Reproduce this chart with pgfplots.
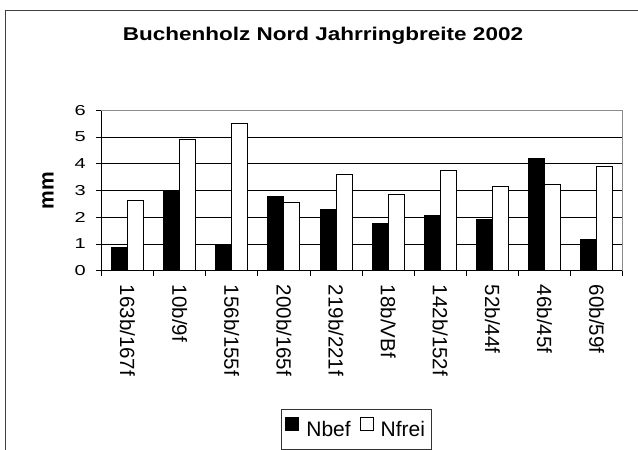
\documentclass[border=0pt]{standalone}
\usepackage{fontspec}
\setmainfont{Liberation Sans}
\usepackage{pgfplots}
\pgfplotsset{compat=1.18}
\begin{document}
\begin{tikzpicture}
\useasboundingbox (-101.5pt,-179.3pt) rectangle (536.5pt,270.7pt);
\clip (-101.5pt,-179.3pt) rectangle (536.5pt,270.7pt);
\fill[white] (-101.5pt,-179.3pt) rectangle (536.5pt,270.7pt);
\draw[line width=1.3pt, black!75] (-96pt,-220pt) rectangle (580pt,260pt);
\begin{axis}[
  scale only axis, width=521.2pt, height=160.4pt,
  xmin=-0.5, xmax=9.5, ymin=0, ymax=6, enlargelimits=false,
  axis lines=left, axis line style={-, line width=0.9pt, black},
  ybar=0pt, bar width=16pt,
  xtick={0,...,9},
  xticklabels={163b/167f,10b/9f,156b/155f,200b/165f,219b/221f,18b/VBf,142b/152f,52b/44f,46b/45f,60b/59f},
  minor xtick={-0.5,0.5,...,9.5},
  major x tick style={draw=none},
  tick align=outside, major tick length=5pt, minor tick length=5pt,
  tick style={black, line width=0.9pt},
  ytick={0,...,6},
  ymajorgrids, grid style={black, line width=0.8pt},
  yticklabel={\scalebox{1}[0.72]{\pgfmathprintnumber[assume math mode=true]{\tick}}},
  yticklabel style={font=\fontsize{20}{24}\selectfont, inner sep=0pt},
  yticklabel shift=10.5pt,
  xticklabel style={font=\fontsize{20.5}{24}\selectfont, rotate=-90, anchor=west, inner sep=0pt},
  xticklabel shift=9pt,
  ylabel={mm},
  every axis y label/.style={at={(axis description cs:-0.1027,0.5)}, rotate=90, anchor=center, font=\fontsize{21}{25}\selectfont\bfseries},
  title={\scalebox{1}[0.82]{Buchenholz Nord Jahrringbreite 2002}},
  title style={at={(axis description cs:0.4250,1.3965)}, anchor=base, font=\fontsize{22.5}{26}\selectfont\bfseries},
  legend columns=2,
  legend style={at={(axis description cs:0.3445,-0.862)}, anchor=north west,
    draw=black!80, line width=0.8pt, font=\fontsize{21}{25}\selectfont,
    inner xsep=3pt, inner ysep=8pt, nodes={inner sep=3pt},
    /tikz/every even column/.append style={column sep=6pt}},
  after end axis/.code={\draw[black!45, line width=1pt] (rel axis cs:0,1) -- (rel axis cs:1,1) -- (rel axis cs:1,0);},
]
\addplot[fill=black, draw=black, line width=0.9pt,
  legend image code/.code={\draw[fill=black, draw=black, line width=0.8pt] (0pt,-1pt) rectangle (13pt,12pt); \path (0pt,0pt) (18pt,0pt);}]
  coordinates {(0,0.86) (1,2.95) (2,0.94) (3,2.79) (4,2.28) (5,1.75) (6,2.05) (7,1.90) (8,4.20) (9,1.16)};
\addplot[fill=white, draw=black, line width=0.9pt,
  legend image code/.code={\draw[fill=white, draw=black, line width=0.8pt] (0pt,-1pt) rectangle (13pt,12pt); \path (0pt,0pt) (17pt,0pt);}]
  coordinates {(0,2.62) (1,4.91) (2,5.51) (3,2.55) (4,3.59) (5,2.84) (6,3.74) (7,3.14) (8,3.21) (9,3.89)};
\legend{Nbef,Nfrei}
\end{axis}
\end{tikzpicture}
\end{document}
